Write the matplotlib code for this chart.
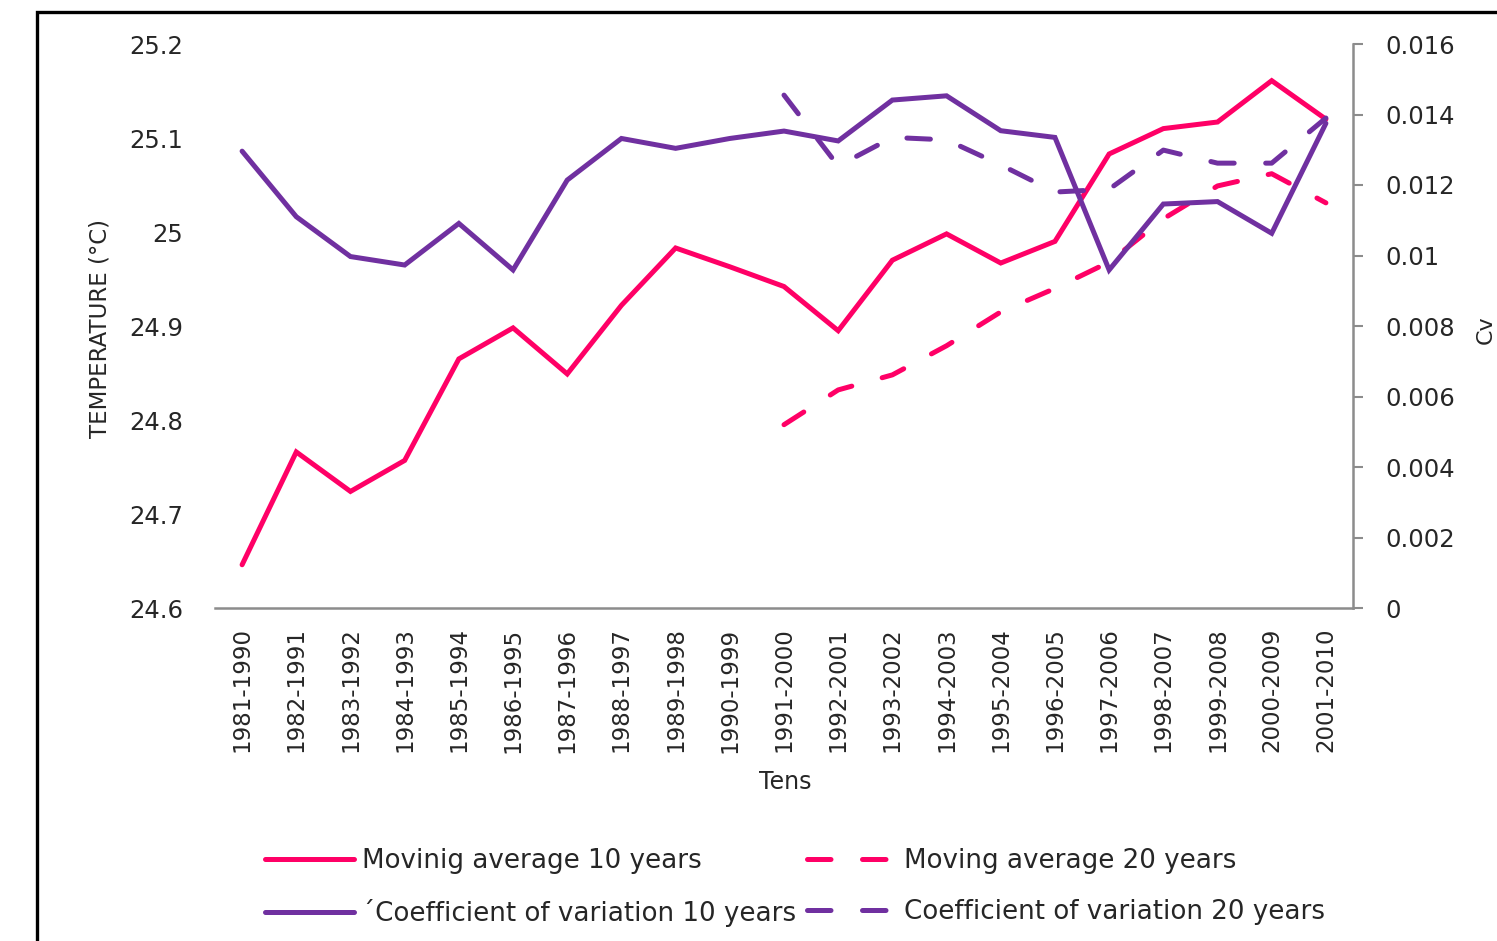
import matplotlib
matplotlib.use("Agg")
import matplotlib.pyplot as plt
import numpy as np
from matplotlib.patches import Rectangle
from matplotlib.ticker import FuncFormatter

plt.rcParams.update({
    "font.family": "DejaVu Sans",
    "text.color": "#262626",
    "xtick.color": "#262626",
    "ytick.color": "#262626",
})

PINK = "#FF0066"
PURPLE = "#7030A0"
AXIS_GRAY = "#8C8C8C"

periods = [f"{y}-{y + 9}" for y in range(1981, 2002)]

# moving averages of temperature (degC)
ma_10 = [24.646, 24.766, 24.724, 24.757, 24.865, 24.898, 24.849, 24.922,
         24.983, 24.963, 24.942, 24.895, 24.970, 24.998, 24.967, 24.990,
         25.083, 25.110, 25.117, 25.161, 25.120]
ma_20 = [np.nan] * 10 + [24.795, 24.832, 24.848, 24.879, 24.915, 24.940,
                         24.968, 25.014, 25.049, 25.062, 25.031]

# coefficients of variation
cv_10 = [0.01296, 0.01110, 0.00997, 0.00973, 0.01091, 0.00959, 0.01214,
         0.01332, 0.01304, 0.01332, 0.01353, 0.01325, 0.01441, 0.01453,
         0.01354, 0.01335, 0.00959, 0.01146, 0.01153, 0.01063, 0.01375]
cv_20 = [np.nan] * 10 + [0.01455, 0.01254, 0.01335, 0.01328, 0.01257,
                         0.01180, 0.01188, 0.01299, 0.01262, 0.01262, 0.01390]

W, H = 1497, 941
fig = plt.figure(figsize=(W / 100, H / 100), dpi=100)
ax = fig.add_axes([215 / W, 1 - 608 / H, (1353 - 215) / W, (608 - 44) / H])
ax2 = ax.twinx()

x = np.arange(len(periods))
lw = 3.6
dash = (4.7, 6.3)

l1, = ax.plot(x, ma_10, color=PINK, lw=lw, solid_capstyle="round",
              solid_joinstyle="miter")
l2, = ax.plot(x, ma_20, color=PINK, lw=lw, linestyle=(0, dash),
              dash_capstyle="round")
l3, = ax2.plot(x, cv_10, color=PURPLE, lw=lw, solid_capstyle="round",
               solid_joinstyle="miter")
l4, = ax2.plot(x, cv_20, color=PURPLE, lw=lw, linestyle=(0, dash),
               dash_capstyle="round")

ax.set_xlim(-0.5, len(periods) - 0.5)
ax.set_ylim(24.6, 25.2)
ax.set_yticks(np.arange(24.6, 25.21, 0.1))
ax.yaxis.set_major_formatter(FuncFormatter(lambda v, _: f"{v:.1f}".rstrip("0").rstrip(".")))
ax2.set_ylim(0, 0.016)
ax2.set_yticks(np.arange(0, 0.0161, 0.002))
ax2.yaxis.set_major_formatter(FuncFormatter(lambda v, _: f"{round(v, 3):g}"))

ax.set_xticks(x)
ax.set_xticklabels(periods, rotation=90, fontsize=16.5)
ax.tick_params(axis="x", length=0, pad=14)
ax.tick_params(axis="y", length=0, pad=23, labelsize=17.5)
ax2.tick_params(axis="y", length=7, width=1.5, color=AXIS_GRAY, pad=16,
                labelsize=17.5)

for a in (ax, ax2):
    for side in ("top", "left", "right", "bottom"):
        a.spines[side].set_visible(False)
ax2.spines["right"].set_visible(True)
ax2.spines["right"].set_color(AXIS_GRAY)
ax2.spines["right"].set_linewidth(1.8)
ax.spines["bottom"].set_visible(True)
ax.spines["bottom"].set_color(AXIS_GRAY)
ax.spines["bottom"].set_linewidth(1.8)

fig.text(785 / W, 1 - 782 / H, "Tens", ha="center", va="center", fontsize=17)
fig.text(100 / W, 1 - 328 / H, "TEMPERATURE (°C)", rotation=90,
         ha="center", va="center", fontsize=16.5)
fig.text(1486 / W, 1 - 330 / H, "Cv", rotation=90,
         ha="center", va="center", fontsize=16)

fig.legend([l1, l3, l2, l4],
           ["Movinig average 10 years", "\u00b4Coefficient of variation 10 years",
            "Moving average 20 years", "Coefficient of variation 20 years"],
           loc="upper left", bbox_to_anchor=(265 / W, 1 - 848 / H), ncol=2,
           frameon=False, fontsize=18.8, handlelength=3.4, handletextpad=0.3,
           columnspacing=0.45, labelspacing=0.95, borderpad=0, borderaxespad=0)

# outer frame
fig.patches.append(Rectangle((37 / W, -0.1), 1.2, 1 - 12 / H + 0.1,
                             transform=fig.transFigure, fill=False,
                             edgecolor="black", linewidth=2.4))

fig.savefig("out.png", dpi=100)
